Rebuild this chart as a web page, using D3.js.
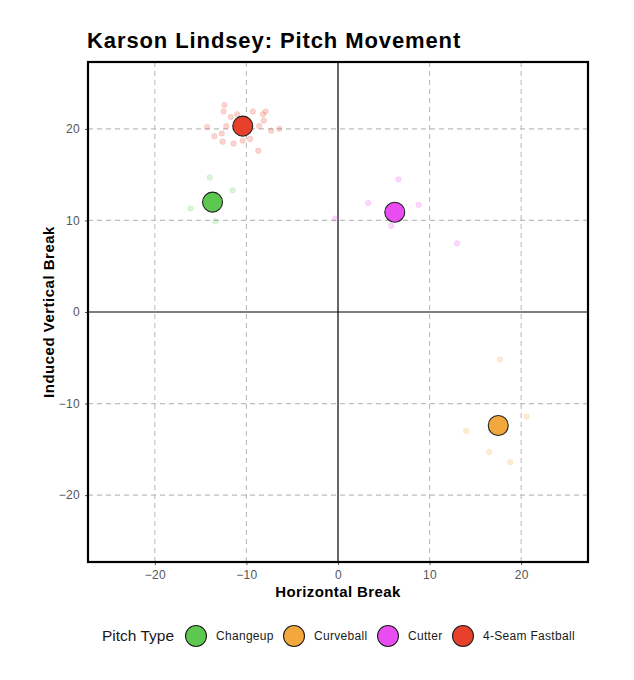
<!DOCTYPE html>
<html>
<head>
<meta charset="utf-8">
<script src="https://cdn.jsdelivr.net/npm/d3@7"></script>
<style>
  body { margin: 0; background: #fff; }
  svg text { font-family: "Liberation Sans", Arial, Helvetica, sans-serif; }
</style>
</head>
<body>
<svg id="chart"></svg>
<script>
// pitch types, in legend order
var pitchTypes = ["Changeup", "Curveball", "Cutter", "4-Seam Fastball"];
var pitchColors = ["#5cc84f", "#f3a83e", "#e94cf0", "#e8402a"];

// individual pitches (horizontal break, induced vertical break)
var changeupH = [-14.0, -11.5, -16.1, -13.4];
var changeupV = [14.7, 13.3, 11.3, 9.9];
var curveballH = [17.7, 20.6, 14.0, 16.5, 18.8];
var curveballV = [-5.2, -11.4, -13.0, -15.3, -16.4];
var cutterH = [6.6, 3.3, 8.8, -0.3, 5.8, 13.0];
var cutterV = [14.5, 11.9, 11.7, 10.2, 9.4, 7.5];
var fastballH = [-12.4, -12.5, -11.7, -11.0, -9.3, -8.2, -7.9, -8.1, -14.3, -12.2, -8.6, -7.3, -6.4, -13.5, -12.7, -12.6, -11.4, -10.4, -9.6, -8.7];
var fastballV = [22.6, 21.9, 21.3, 21.6, 21.9, 21.6, 21.9, 20.9, 20.2, 20.3, 20.3, 19.8, 20.0, 19.2, 19.5, 18.6, 18.4, 18.7, 18.9, 17.6];

// averages per pitch type
var avgH = [-13.7, 17.5, 6.2, -10.4];
var avgV = [12.0, -12.4, 10.9, 20.3];

var tickValues = [-20, -10, 0, 10, 20];
var axisLimit = 27.3;

var width = 634, height = 680;
var margin = {top: 62, right: 46, bottom: 118, left: 88};
var w = width - margin.left - margin.right,
    h = height - margin.top - margin.bottom;

var svg = d3.select("#chart")
    .attr("width", width)
    .attr("height", height);

var g = svg.append("g")
    .attr("transform", "translate(" + margin.left + "," + margin.top + ")");

var xScale = d3.scaleLinear().domain([-axisLimit, axisLimit]).range([0, w]);
var yScale = d3.scaleLinear().domain([-axisLimit, axisLimit]).range([h, 0]);
var color = d3.scaleOrdinal().domain(pitchTypes).range(pitchColors);

// dashed grid
g.append("g")
    .selectAll("line.vgrid")
    .data(tickValues.filter(function(d){ return d !== 0; }))
    .enter().append("line")
    .attr("x1", function(d){ return xScale(d); })
    .attr("x2", function(d){ return xScale(d); })
    .attr("y1", 0).attr("y2", h)
    .attr("stroke", "#bdbdbd")
    .attr("stroke-width", 1.1)
    .attr("stroke-dasharray", "5,4");

g.append("g")
    .selectAll("line.hgrid")
    .data(tickValues.filter(function(d){ return d !== 0; }))
    .enter().append("line")
    .attr("y1", function(d){ return yScale(d); })
    .attr("y2", function(d){ return yScale(d); })
    .attr("x1", 0).attr("x2", w)
    .attr("stroke", "#bdbdbd")
    .attr("stroke-width", 1.1)
    .attr("stroke-dasharray", "5,4");

// zero lines
g.append("line")
    .attr("x1", xScale(0)).attr("x2", xScale(0))
    .attr("y1", 0).attr("y2", h)
    .attr("stroke", "#000").attr("stroke-width", 1.2);
g.append("line")
    .attr("y1", yScale(0)).attr("y2", yScale(0))
    .attr("x1", 0).attr("x2", w)
    .attr("stroke", "#000").attr("stroke-width", 1.2);

// axes
var xAxis = g.append("g")
    .attr("transform", "translate(0," + h + ")")
    .call(d3.axisBottom(xScale).tickValues(tickValues).tickSize(3).tickPadding(5));
var yAxis = g.append("g")
    .call(d3.axisLeft(yScale).tickValues(tickValues).tickSize(3).tickPadding(5));

[xAxis, yAxis].forEach(function(a){
    a.select(".domain").remove();
    a.selectAll(".tick line").attr("stroke", "#555");
    a.selectAll(".tick text")
        .attr("fill", "#555")
        .style("font-size", "12px")
        .style("letter-spacing", "0.3px")
        .style("font-family", "'Liberation Sans', Arial, sans-serif");
});

// individual pitches
var pitches = [];
function addPitches(type, hs, vs) {
    hs.forEach(function(d, i){ pitches.push({type: type, h: d, v: vs[i]}); });
}
addPitches("Changeup", changeupH, changeupV);
addPitches("Curveball", curveballH, curveballV);
addPitches("Cutter", cutterH, cutterV);
addPitches("4-Seam Fastball", fastballH, fastballV);

g.append("g").selectAll("circle")
    .data(pitches)
    .enter().append("circle")
    .attr("cx", function(d){ return xScale(d.h); })
    .attr("cy", function(d){ return yScale(d.v); })
    .attr("r", 2.8)
    .attr("fill", function(d){ return color(d.type); })
    .attr("fill-opacity", 0.22)
    .attr("stroke", function(d){ return color(d.type); })
    .attr("stroke-opacity", 0.12);

// averages
g.append("g").selectAll("circle")
    .data(pitchTypes)
    .enter().append("circle")
    .attr("cx", function(d, i){ return xScale(avgH[i]); })
    .attr("cy", function(d, i){ return yScale(avgV[i]); })
    .attr("r", 10)
    .attr("fill", function(d){ return color(d); })
    .attr("stroke", "#222")
    .attr("stroke-width", 1.1);

// panel border
g.append("rect")
    .attr("width", w).attr("height", h)
    .attr("fill", "none")
    .attr("stroke", "#000")
    .attr("stroke-width", 2.2);

// title and axis labels
svg.append("text")
    .attr("x", 87).attr("y", 48)
    .style("font-size", "22px")
    .style("font-weight", "bold")
    .style("letter-spacing", "0.9px")
    .attr("fill", "#000")
    .text("Karson Lindsey: Pitch Movement");

svg.append("text")
    .attr("x", margin.left + w / 2).attr("y", 597)
    .attr("text-anchor", "middle")
    .style("font-size", "15px")
    .style("font-weight", "bold")
    .style("letter-spacing", "0.4px")
    .text("Horizontal Break");

svg.append("text")
    .attr("transform", "translate(54," + (margin.top + h / 2) + ") rotate(-90)")
    .attr("text-anchor", "middle")
    .style("font-size", "15px")
    .style("font-weight", "bold")
    .style("letter-spacing", "0.5px")
    .text("Induced Vertical Break");

// legend
var legend = svg.append("g").attr("transform", "translate(0,636)");
legend.append("text")
    .attr("x", 102).attr("y", 5)
    .style("font-size", "15.5px")
    .attr("fill", "#1a1a1a")
    .text("Pitch Type");

var legendX = [196, 294, 388, 463];
var items = legend.selectAll("g.item")
    .data(pitchTypes)
    .enter().append("g")
    .attr("transform", function(d, i){ return "translate(" + legendX[i] + ",0)"; });
items.append("circle")
    .attr("r", 10.5)
    .attr("fill", function(d){ return color(d); })
    .attr("stroke", "#222")
    .attr("stroke-width", 1.1);
items.append("text")
    .attr("x", 20).attr("y", 4)
    .style("font-size", "12px")
    .style("letter-spacing", "0.3px")
    .attr("fill", "#1a1a1a")
    .text(function(d){ return d; });
</script>
</body>
</html>
